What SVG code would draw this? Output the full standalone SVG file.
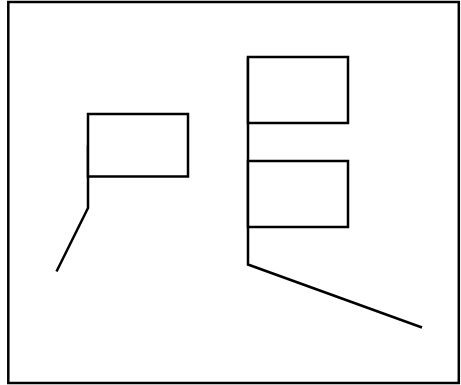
<svg xmlns="http://www.w3.org/2000/svg" width="461" height="385" viewBox="0 0 461 385">
<style>
.b{fill:#fff;stroke:#000;stroke-width:2.5}
.c{fill:none;stroke:#000;stroke-width:2.5}
</style>
<rect width="461" height="385" fill="#fff"/>
<rect id="frame" class="b" x="8.3" y="2" width="450.5" height="381"/>
<g id="connectors">
<polyline class="c" points="88,145 88,208 56.5,271.5"/>
<polyline class="c" points="248,57 248,264.5 422,327.5"/>
</g>
<g id="box1"><rect class="b" x="88" y="114" width="100" height="62.5"/></g>
<g id="box2"><rect class="b" x="248" y="57" width="100" height="66"/></g>
<g id="box3"><rect class="b" x="248" y="161" width="100" height="66"/></g>
</svg>
